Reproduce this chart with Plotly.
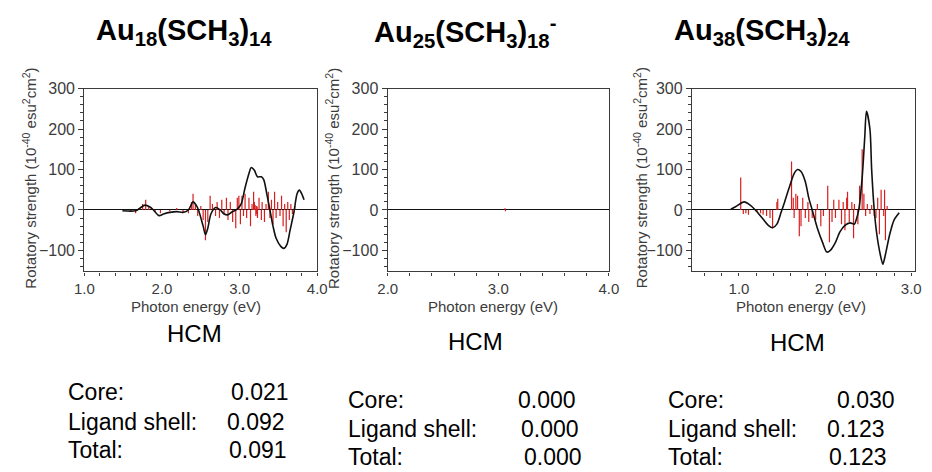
import plotly.graph_objects as go

W, H = 932, 472

# ---------------- data ----------------
titles = ["Au<sub>18</sub>(SCH<sub>3</sub>)<sub>14</sub>",
          "Au<sub>25</sub>(SCH<sub>3</sub>)<sub>18</sub><sup>-</sup>",
          "Au<sub>38</sub>(SCH<sub>3</sub>)<sub>24</sub>"]

# Au18(SCH3)14 : broadened CD curve and rotatory-strength sticks
au18_curve_e = [1.49, 1.66, 1.72, 1.78, 1.84, 1.89, 1.96, 2.02, 2.10, 2.19, 2.27, 2.34,
                2.40, 2.44, 2.47, 2.53, 2.56, 2.59, 2.63, 2.69, 2.75, 2.80, 2.85, 2.90,
                2.97, 3.02, 3.07, 3.12, 3.15, 3.19, 3.23, 3.28, 3.31, 3.35, 3.39, 3.43,
                3.47, 3.53, 3.57, 3.61, 3.65, 3.70, 3.74, 3.77, 3.80, 3.83]
au18_curve_r = [-2, -2, 5, 12, 8, 0, -14, -10, -6, -4, -6, 0,
                20, 12, 0, -40, -61, -45, -10, 6, 0, -10, -12, -5,
                2, 15, 55, 90, 105, 98, 82, 82, 75, 40, 0, -40,
                -70, -90, -95, -85, -50, -5, 40, 49, 40, 25]
au18_stick_e = [1.60, 1.66, 1.70, 1.75, 1.79, 1.83, 1.91, 1.98, 2.10, 2.19, 2.27, 2.34,
                2.38, 2.40, 2.43, 2.46, 2.50, 2.53, 2.56, 2.59, 2.62, 2.65, 2.69, 2.71,
                2.74, 2.77, 2.80, 2.83, 2.85, 2.88, 2.91, 2.95, 2.97, 2.99, 3.01, 3.03,
                3.05, 3.07, 3.09, 3.12, 3.14, 3.16, 3.18, 3.19, 3.20, 3.21, 3.215, 3.22,
                3.225, 3.23, 3.25, 3.28, 3.29, 3.32, 3.34, 3.37, 3.39, 3.41, 3.43, 3.45,
                3.47, 3.49, 3.52, 3.54, 3.56, 3.58, 3.60, 3.62, 3.64, 3.66, 3.68, 3.71]
au18_stick_r = [-3, -8, 5, 15, 25, 10, -5, -8, -3, 5, -5, -8,
                20, 40, 15, -15, 10, -25, -75, -30, 35, 15, -15, 20,
                -20, 25, -10, 30, -25, 20, -30, -45, 30, 35, -35, 35,
                -15, 40, -20, 30, -40, 15, 45, 20, 12, -15, -10, 10,
                8, -20, 30, -25, 20, -30, 15, 45, -20, 25, -35, 45,
                -20, 20, -15, 35, -40, 15, -55, 20, -25, 15, -10, 10]

# Au25(SCH3)18- : essentially zero response
au25_curve_e = [2.0, 4.0]
au25_curve_r = [0, 0]
au25_stick_e = [3.06, 3.065]
au25_stick_r = [4, -3]

# Au38(SCH3)24
au38_curve_e = [0.905, 0.96, 1.06, 1.13, 1.19, 1.27, 1.34, 1.39, 1.44, 1.49, 1.53, 1.59,
                1.64, 1.68, 1.72, 1.77, 1.81, 1.85, 1.91, 1.97, 2.02, 2.06, 2.12, 2.17,
                2.23, 2.29, 2.34, 2.36, 2.39, 2.43, 2.46, 2.48, 2.52, 2.54, 2.57, 2.60,
                2.64, 2.67, 2.70, 2.75, 2.80, 2.86]
au38_curve_r = [2, 8, 20, 12, 0, -20, -38, -44, -35, -5, 20, 60,
                90, 100, 95, 70, 30, 0, -45, -80, -104, -100, -80, -55,
                -38, -32, -35, -25, 0, 80, 180, 244, 200, 100, 0, -60,
                -110, -134, -110, -60, -25, -7]
au38_stick_e = [1.02, 1.05, 1.08, 1.11, 1.21, 1.25, 1.28, 1.32, 1.36, 1.39, 1.44, 1.45,
                1.61, 1.63, 1.64, 1.66, 1.68, 1.70, 1.72, 1.74, 1.77, 1.80, 1.81, 1.85,
                1.89, 1.91, 1.95, 1.98, 2.03, 2.05, 2.08, 2.10, 2.12, 2.16, 2.19, 2.21,
                2.23, 2.25, 2.26, 2.28, 2.31, 2.33, 2.34, 2.38, 2.40, 2.43, 2.45, 2.47,
                2.49, 2.52, 2.54, 2.57, 2.59, 2.61, 2.63, 2.65, 2.68, 2.69, 2.70, 2.72]
au38_stick_r = [80, -10, -8, -12, -5, -8, -12, -15, -20, -45, 20, 28,
                120, 30, -20, 40, 35, -65, -40, 30, -20, 20, -30, -20,
                -25, 15, -40, -15, 60, -80, -30, 25, -20, 25, -35, 20,
                -50, 30, 45, -30, 20, -70, 15, -35, 60, 150, 40, -15,
                15, -10, 12, -15, -20, 30, -60, 50, -15, 50, -75, 10]

x_ranges = [[1.0, 4.0], [2.0, 4.0], [0.455, 3.045]]
x_ticks = [[1.0, 2.0, 3.0, 4.0], [2.0, 3.0, 4.0], [1.0, 2.0, 3.0]]
y_ticks = [-100, 0, 100, 200, 300]

row_labels = ["Core:", "Ligand shell:", "Total:"]
core_vals = ["0.021", "0.000", "0.030"]
ligand_vals = ["0.092", "0.000", "0.123"]
total_vals = ["0.091", "0.000", "0.123"]
method = "HCM"

# ---------------- layout geometry (pixels) ----------------
plot_x = [(76, 314), (386, 612), (697, 925)]
plot_top, plot_bot = 82, 268
title_xc = [178, 465, 768]
ytitle_x = [19, 329, 644]
xtitle_xc = [190, 494, 808]
hcm_pos = [(189, 331), (476, 339), (805, 340)]
label_x = [57, 343, 670]
row_y = [(391, 421, 450), (399, 428, 457), (399, 428, 457)]
num_x = [(224, 220, 222), (517, 520, 523), (843, 833, 835)]

FONT = "Liberation Sans, Arial, Helvetica, sans-serif"
AX = "#3a3a3a"
TXT = "#3c3c3c"
RED = "#d81e1e"


def px(x):
    return x / W


def py(y):
    return 1 - y / H


def sticks(es, rs):
    sx, sy = [], []
    for e, r in zip(es, rs):
        sx += [e, e, None]
        sy += [0, r, None]
    return sx, sy


curves = [(au18_curve_e, au18_curve_r), (au25_curve_e, au25_curve_r), (au38_curve_e, au38_curve_r)]
stick_sets = [(au18_stick_e, au18_stick_r), (au25_stick_e, au25_stick_r), (au38_stick_e, au38_stick_r)]

fig = go.Figure()
annotations = []
layout = {}

for i in range(3):
    sfx = "" if i == 0 else str(i + 1)
    xa, ya = "x" + sfx, "y" + sfx

    sx, sy = sticks(*stick_sets[i])
    fig.add_trace(go.Scatter(x=sx, y=sy, mode="lines", line=dict(color=RED, width=1.2),
                             xaxis=xa, yaxis=ya, showlegend=False, hoverinfo="skip"))
    if i != 1:
        ce, cr = curves[i]
        fig.add_trace(go.Scatter(x=ce, y=cr, mode="lines",
                                 line=dict(color="#111111", width=1.6, shape="spline", smoothing=0.8),
                                 xaxis=xa, yaxis=ya, showlegend=False))

    x0, x1 = plot_x[i]
    layout["xaxis" + sfx] = dict(
        domain=[px(x0), px(x1)], anchor=ya, range=x_ranges[i],
        tickvals=x_ticks[i], tickformat=".1f",
        showline=True, linecolor=AX, linewidth=1.4, mirror=True,
        ticks="outside", ticklen=3, tickwidth=1.2, tickcolor=AX,
        minor=dict(dtick=0.2, tick0=0, ticks="outside", ticklen=3, tickwidth=1, tickcolor=AX),
        showgrid=False, zeroline=False,
        tickfont=dict(family=FONT, size=15, color=TXT),
    )
    layout["yaxis" + sfx] = dict(
        domain=[py(plot_bot), py(plot_top)], anchor=xa, range=[-152, 300],
        tickvals=y_ticks,
        showline=True, linecolor=AX, linewidth=1.4, mirror=True,
        ticks="outside", ticklen=5, tickwidth=1.2, tickcolor=AX,
        minor=dict(dtick=20, tick0=0, ticks="outside", ticklen=3, tickwidth=1, tickcolor=AX),
        showgrid=False, zeroline=True, zerolinecolor="#111111", zerolinewidth=1.3,
        tickfont=dict(family=FONT, size=16, color=TXT),
    )

    # compound title
    annotations.append(dict(text="<b>" + titles[i] + "</b>", x=px(title_xc[i]), y=py(24),
                            xref="paper", yref="paper", xanchor="center", yanchor="middle",
                            showarrow=False, font=dict(family=FONT, size=29, color="#000000")))
    # axis titles
    annotations.append(dict(text="Rotatory strength (10<sup>-40</sup> esu<sup>2</sup>cm<sup>2</sup>)",
                            x=px(ytitle_x[i]), y=py((plot_top + plot_bot) / 2 - 2),
                            xref="paper", yref="paper", xanchor="center", yanchor="middle",
                            textangle=-90, showarrow=False,
                            font=dict(family=FONT, size=15, color=TXT)))
    annotations.append(dict(text="Photon energy (eV)", x=px(xtitle_xc[i]), y=py(304),
                            xref="paper", yref="paper", xanchor="center", yanchor="middle",
                            showarrow=False, font=dict(family=FONT, size=15, color=TXT)))
    # method label
    hx, hy = hcm_pos[i]
    annotations.append(dict(text=method, x=px(hx), y=py(hy), xref="paper", yref="paper",
                            xanchor="center", yanchor="middle", showarrow=False,
                            font=dict(family=FONT, size=24, color="#000000")))
    # decomposition table
    vals = [core_vals[i], ligand_vals[i], total_vals[i]]
    for k in range(3):
        annotations.append(dict(text=row_labels[k], x=px(label_x[i]), y=py(row_y[i][k]),
                                xref="paper", yref="paper", xanchor="left", yanchor="middle",
                                showarrow=False, font=dict(family=FONT, size=23, color="#000000")))
        annotations.append(dict(text=vals[k], x=px(num_x[i][k]), y=py(row_y[i][k]),
                                xref="paper", yref="paper", xanchor="left", yanchor="middle",
                                showarrow=False, font=dict(family=FONT, size=23, color="#000000")))

fig.update_layout(width=W, height=H, margin=dict(l=0, r=0, t=0, b=0),
                  paper_bgcolor="white", plot_bgcolor="white",
                  annotations=annotations, **layout)

fig.write_html("out.html")
